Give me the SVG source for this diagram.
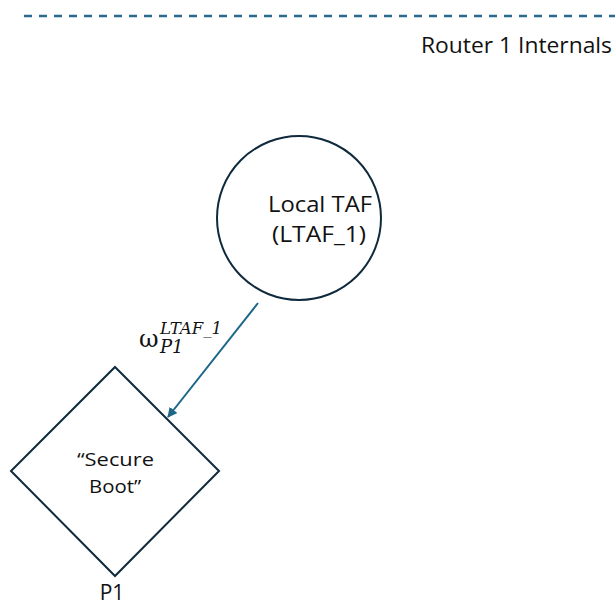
<svg xmlns="http://www.w3.org/2000/svg" width="615" height="605" viewBox="0 0 615 605">
  <style>
    .shape { fill: #ffffff; stroke: #0f2a3c; stroke-width: 2; }
    .lbl { font-family: "Open Sans", "Liberation Sans", Arial, sans-serif; fill: #111111; }
    .math { font-family: "DejaVu Serif", "Liberation Serif", serif; fill: #111111; }
    .link { stroke: #1d6688; stroke-width: 2; fill: none; }
  </style>
  <defs>
    <marker id="arrow" viewBox="0 0 10 10" refX="9" refY="5" markerWidth="5" markerHeight="5" orient="auto" markerUnits="strokeWidth">
      <path d="M0,0 L10,5 L0,10 z" fill="#1d6688"/>
    </marker>
  </defs>
  <rect width="615" height="605" fill="#ffffff"/>

  <!-- boundary of the router -->
  <g id="boundary">
    <line x1="24" y1="16" x2="615" y2="16" stroke="#2a6a8e" stroke-width="2.5" stroke-dasharray="8 7"/>
    <text class="lbl" x="421" y="53" font-size="22" textLength="191" lengthAdjust="spacingAndGlyphs">Router 1 Internals</text>
  </g>

  <!-- connectors -->
  <g id="connectors">
    <line class="link" x1="258" y1="303" x2="168" y2="417" marker-end="url(#arrow)"/>
    <text class="math" x="139" y="347" font-size="24">ω</text>
    <text class="math" x="160" y="334" font-size="16" font-style="italic" textLength="62" lengthAdjust="spacingAndGlyphs">LTAF_1</text>
    <text class="math" x="160" y="353" font-size="18" font-style="italic">P1</text>
  </g>

  <!-- local trust assessment function -->
  <g id="ltaf">
    <circle class="shape" cx="299" cy="218" r="82"/>
    <text class="lbl" x="268" y="212" font-size="22" textLength="104" lengthAdjust="spacingAndGlyphs">Local TAF</text>
    <text class="lbl" x="272" y="242" font-size="22" textLength="94" lengthAdjust="spacingAndGlyphs">(LTAF_1)</text>
  </g>

  <!-- property P1 -->
  <g id="p1">
    <polygon class="shape" points="115,367 219,471 115,576 11,471"/>
    <text class="lbl" x="77" y="466" font-size="19" textLength="77" lengthAdjust="spacingAndGlyphs">“Secure</text>
    <text class="lbl" x="89" y="493" font-size="19" textLength="52" lengthAdjust="spacingAndGlyphs">Boot”</text>
    <text class="lbl" x="112" y="600" font-size="21" text-anchor="middle">P1</text>
  </g>
</svg>
